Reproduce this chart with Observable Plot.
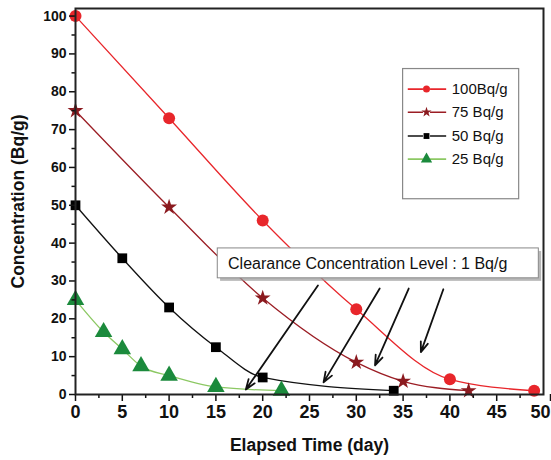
<!DOCTYPE html>
<html>
<head>
<meta charset="utf-8">
<script src="https://cdn.jsdelivr.net/npm/d3@7"></script>
<script src="https://cdn.jsdelivr.net/npm/@observablehq/plot@0.6"></script>
<style>
  html, body { margin: 0; padding: 0; background: #fff; }
  #chart svg { display: block; }
</style>
</head>
<body>
<div id="chart"></div>
<script>
// ---- data ----
const seriesNames = ["100Bq/g", "75 Bq/g", "50 Bq/g", "25 Bq/g"];
const days100 = [0, 10, 20, 30, 40, 49];
const conc100 = [100, 73, 46, 22.5, 4, 1];
const days75 = [0, 10, 20, 30, 35, 42];
const conc75 = [75, 49.5, 25.5, 8.5, 3.5, 1];
const days50 = [0, 5, 10, 15, 20, 34];
const conc50 = [50, 36, 23, 12.5, 4.5, 1];
const days25 = [0, 3, 5, 7, 10, 15, 22];
const conc25 = [25, 16.5, 12, 7.5, 5, 2, 1];

const xTicks = [0, 5, 10, 15, 20, 25, 30, 35, 40, 45, 50];
const yTicks = [0, 10, 20, 30, 40, 50, 60, 70, 80, 90, 100];
const xTitle = "Elapsed Time (day)";
const yTitle = "Concentration (Bq/g)";

const annotationText = "Clearance Concentration Level : 1 Bq/g";
// arrows: start (tail) and end (head) in data units
const arrowX1 = [25.9, 32.5, 35.6, 39.3];
const arrowY1 = [28.8, 28.0, 28.0, 27.8];
const arrowX2 = [18.2, 26.5, 32.0, 36.9];
const arrowY2 = [1.3, 3.2, 7.7, 11.2];

// ---- build tables ----
const styles = [
  {line: "#e8262b", fill: "#e8262b", symbol: "circle", r: 6, lr: 3.5},
  {line: "#9b1d24", fill: "#8b1a1f", symbol: "star", r: 5, lr: 3.2},
  {line: "#111111", fill: "#000000", symbol: "square", r: 5.5, lr: 3.3},
  {line: "#8cc863", fill: "#1b8a3c", symbol: "triangle", r: 6.5, lr: 4.2}
];
const dayArrays = [days100, days75, days50, days25];
const concArrays = [conc100, conc75, conc50, conc25];
const series = seriesNames.map((name, i) => ({
  name, ...styles[i],
  data: dayArrays[i].map((d, j) => ({day: d, c: concArrays[i][j]}))
}));
const arrows = arrowX1.map((x, i) => ({x1: x, y1: arrowY1[i], x2: arrowX2[i], y2: arrowY2[i]}));

// legend positions (data units)
const legendY = [80.7, 74.6, 68.3, 62.2];
const legendRows = series.map((s, i) => ({...s, y: legendY[i]}));

const minorX = d3.range(2.5, 50, 5);
const minorY = d3.range(5, 100, 10);
const lastX = xTicks[xTicks.length - 1];

const font = "'Liberation Sans', Arial, sans-serif";
const narrow = "'Liberation Sans Narrow', 'Liberation Sans', Arial, sans-serif";

const marks = [];
series.forEach(s => {
  marks.push(Plot.line(s.data, {x: "day", y: "c", stroke: s.line, strokeWidth: 1.3, curve: "monotone-x"}));
});
// annotation box with shadow
marks.push(Plot.rect([{}], {x1: 15.5, x2: 49.8, y1: 29.9, y2: 37.8, fill: "#9a9a9a", fillOpacity: 0.7}));
marks.push(Plot.rect([{}], {x1: 15.2, x2: 49.5, y1: 30.7, y2: 38.6, fill: "white", stroke: "#888", strokeWidth: 1}));
marks.push(Plot.text([annotationText], {x: 16.3, y: 34.6, text: d => d, textAnchor: "start", fontSize: 16, fill: "#111", fontFamily: font}));
// arrows
marks.push(Plot.arrow(arrows, {x1: "x1", y1: "y1", x2: "x2", y2: "y2", stroke: "#111", strokeWidth: 1.8, headLength: 9, headAngle: 40}));
series.forEach(s => {
  marks.push(Plot.dot(s.data, {x: "day", y: "c", symbol: () => s.symbol, r: s.r, fill: s.fill, stroke: "none"}));
});
// legend
marks.push(Plot.rect([{}], {x1: 35.0, x2: 47.4, y1: 51.6, y2: 86, fill: "white", stroke: "#888", strokeWidth: 1.2}));
marks.push(Plot.link(legendRows, {x1: 35.5, x2: 39.6, y1: "y", y2: "y", stroke: d => d.line, strokeWidth: 1.6}));
marks.push(Plot.dot(legendRows, {x: 37.5, y: "y", r: 4, fill: "white", stroke: "none", symbol: "square"}));
legendRows.forEach(s => {
  marks.push(Plot.dot([s], {x: 37.5, y: "y", symbol: () => s.symbol, r: s.lr, fill: s.fill, stroke: "none"}));
});
marks.push(Plot.text(legendRows, {x: 40.2, y: "y", text: "name", textAnchor: "start", fontSize: 15, fill: "#111", fontFamily: font}));
// axes
marks.push(Plot.axisX({ticks: xTicks.slice(0, -1), tickSize: 7, tickPadding: 4, fontSize: 18, fontWeight: "bold", label: null, fontFamily: narrow, strokeWidth: 1.5}));
marks.push(Plot.axisX({ticks: [lastX], tickSize: 7, tickPadding: 4, fontSize: 18, fontWeight: "bold", label: null, fontFamily: narrow, strokeWidth: 1.5, textAnchor: "end", dx: 7}));
marks.push(Plot.axisX({ticks: minorX, tickSize: 4, text: null, label: null, strokeWidth: 1.5}));
marks.push(Plot.axisY({ticks: yTicks, tickSize: 6, tickPadding: 3, fontSize: 14, fontWeight: "bold", label: null, fontFamily: font, strokeWidth: 1.5}));
marks.push(Plot.axisY({ticks: minorY, tickSize: 3.5, text: null, label: null, strokeWidth: 1.5}));
// axis titles
marks.push(Plot.text([xTitle], {text: d => d, frameAnchor: "bottom", dy: 56, fontSize: 17.5, fontWeight: "bold", fill: "#111", fontFamily: font}));
marks.push(Plot.text([yTitle], {text: d => d, frameAnchor: "left", textAnchor: "middle", rotate: -90, dx: -57, fontSize: 17.5, fontWeight: "bold", fill: "#111", fontFamily: font}));
marks.push(Plot.frame({stroke: "#222", strokeWidth: 2}));

const chart = Plot.plot({
  width: 551,
  height: 460,
  marginLeft: 75,
  marginRight: 8,
  marginTop: 8,
  marginBottom: 66,
  style: {fontFamily: font, background: "white", color: "#111"},
  x: {domain: [0, 50]},
  y: {domain: [0, 102]},
  marks
});
document.getElementById("chart").appendChild(chart);
</script>
</body>
</html>
